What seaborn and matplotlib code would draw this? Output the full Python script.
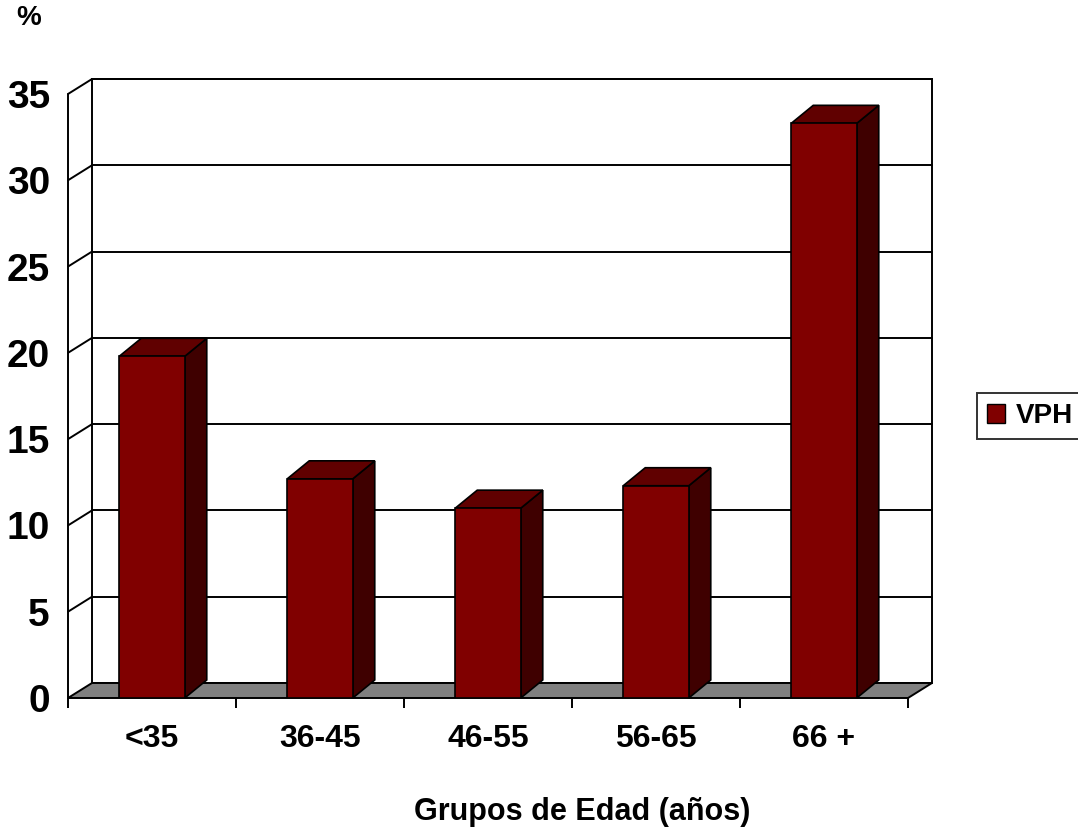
import matplotlib
matplotlib.use("Agg")
import matplotlib.pyplot as plt
from matplotlib.patches import Polygon, Patch
import seaborn as sns
import pandas as pd

# Data
groups = ["<35", "36-45", "46-55", "56-65", "66 +"]
vph = [19.8, 12.7, 11.0, 12.3, 33.3]
y_ticks = [0, 5, 10, 15, 20, 25, 30, 35]
series_name = "VPH"

sns.set_theme(style="white")
plt.rcParams["font.family"] = ["Liberation Sans", "DejaVu Sans"]
plt.rcParams["font.weight"] = "bold"
plt.rcParams["text.color"] = "black"

W, H, DPI = 1078, 836, 100
fig = plt.figure(figsize=(W / DPI, H / DPI), dpi=DPI)

# plot area (front plane) in pixels
left_px, right_px, bottom_px, top_px = 68, 908, 698, 94
ax = fig.add_axes([left_px / W, 1 - bottom_px / H,
                   (right_px - left_px) / W, (bottom_px - top_px) / H])

df = pd.DataFrame({"grupo": groups, "valor": vph})
sns.barplot(data=df, x="grupo", y="valor", color="#800000", saturation=1,
            width=0.39, edgecolor="black", linewidth=1.2, ax=ax, zorder=4)

ax.set_xlim(-0.5, 4.5)
ax.set_ylim(0, 35)
for s in ax.spines.values():
    s.set_visible(False)

# pixel -> data conversion for the pseudo-3D depth
px_x = (right_px - left_px) / 5.0          # pixels per category
px_y = (bottom_px - top_px) / 35.0         # pixels per unit
wall_dx, wall_dy = 24 / px_x, 15 / px_y    # wall/floor depth
bar_dx, bar_dy = 22 / px_x, 18 / px_y      # column depth

x0, x1 = -0.5, 4.5
ymax = y_ticks[-1]
lw = 1.4

# back wall
ax.add_patch(Polygon([(x0 + wall_dx, wall_dy), (x1 + wall_dx, wall_dy),
                      (x1 + wall_dx, ymax + wall_dy), (x0 + wall_dx, ymax + wall_dy)],
                     closed=True, facecolor="white", edgecolor="black", lw=lw,
                     clip_on=False, zorder=0.5))
# gridlines on back wall and side wall
for v in y_ticks[1:]:
    ax.plot([x0 + wall_dx, x1 + wall_dx], [v + wall_dy, v + wall_dy],
            color="black", lw=lw, clip_on=False, zorder=0.6)
    ax.plot([x0, x0 + wall_dx], [v, v + wall_dy],
            color="black", lw=lw, clip_on=False, zorder=0.6)
# left wall front edge
ax.plot([x0, x0], [0, ymax], color="black", lw=lw, clip_on=False, zorder=0.6)

# floor
ax.add_patch(Polygon([(x0, 0), (x1, 0), (x1 + wall_dx, wall_dy), (x0 + wall_dx, wall_dy)],
                     closed=True, facecolor="#808080", edgecolor="black", lw=lw,
                     clip_on=False, zorder=1))

# column tops and sides built on the drawn bars
for bar in ax.patches:
    if not hasattr(bar, "get_width") or bar.get_zorder() != 4:
        continue
    bx, bw, bh = bar.get_x(), bar.get_width(), bar.get_height()
    side = Polygon([(bx + bw, 0), (bx + bw + bar_dx, bar_dy),
                    (bx + bw + bar_dx, bh + bar_dy), (bx + bw, bh)],
                   closed=True, facecolor="#3f0000", edgecolor="black", lw=1.2,
                   clip_on=False, zorder=3)
    top = Polygon([(bx, bh), (bx + bw, bh), (bx + bw + bar_dx, bh + bar_dy),
                   (bx + bar_dx, bh + bar_dy)],
                  closed=True, facecolor="#600000", edgecolor="black", lw=1.2,
                  clip_on=False, zorder=3)
    ax.add_patch(side)
    ax.add_patch(top)

# axes ticks
ax.set_yticks(y_ticks)
ax.set_yticklabels([str(t) for t in y_ticks], fontsize=28, fontweight="bold")
ax.tick_params(axis="y", length=0, pad=13, colors="black")
ax.set_xticks(range(len(groups)))
ax.set_xticklabels(groups, fontsize=23, fontweight="bold")
ax.set_xticks([i - 0.5 for i in range(len(groups) + 1)], minor=True)
ax.tick_params(axis="x", which="major", length=0, pad=19, colors="black")
ax.tick_params(axis="x", which="minor", length=7.5, width=1.4, color="black",
               direction="out", bottom=True)
ax.set_xlabel("")
ax.set_ylabel("")

fig.text(582 / W, 1 - 812 / H, "Grupos de Edad (años)", fontsize=22,
         fontweight="bold", ha="center", va="center", color="black")
fig.text(29 / W, 1 - 18 / H, "%", fontsize=20, fontweight="bold",
         ha="center", va="center", color="black")

handle = Patch(facecolor="#800000", edgecolor="black", lw=1)
leg = fig.legend(handles=[handle], labels=[series_name], loc="center left",
                 bbox_to_anchor=(977 / W, 1 - 416 / H), frameon=True,
                 fancybox=False, shadow=False, prop={"size": 20, "weight": "bold"},
                 handlelength=0.65, handleheight=0.65, handletextpad=0.4,
                 borderpad=0.35, borderaxespad=0)
leg.get_frame().set_edgecolor("black")
leg.get_frame().set_linewidth(1.4)
for t in leg.get_texts():
    t.set_color("black")

fig.savefig("out.png", dpi=DPI, facecolor="white")
